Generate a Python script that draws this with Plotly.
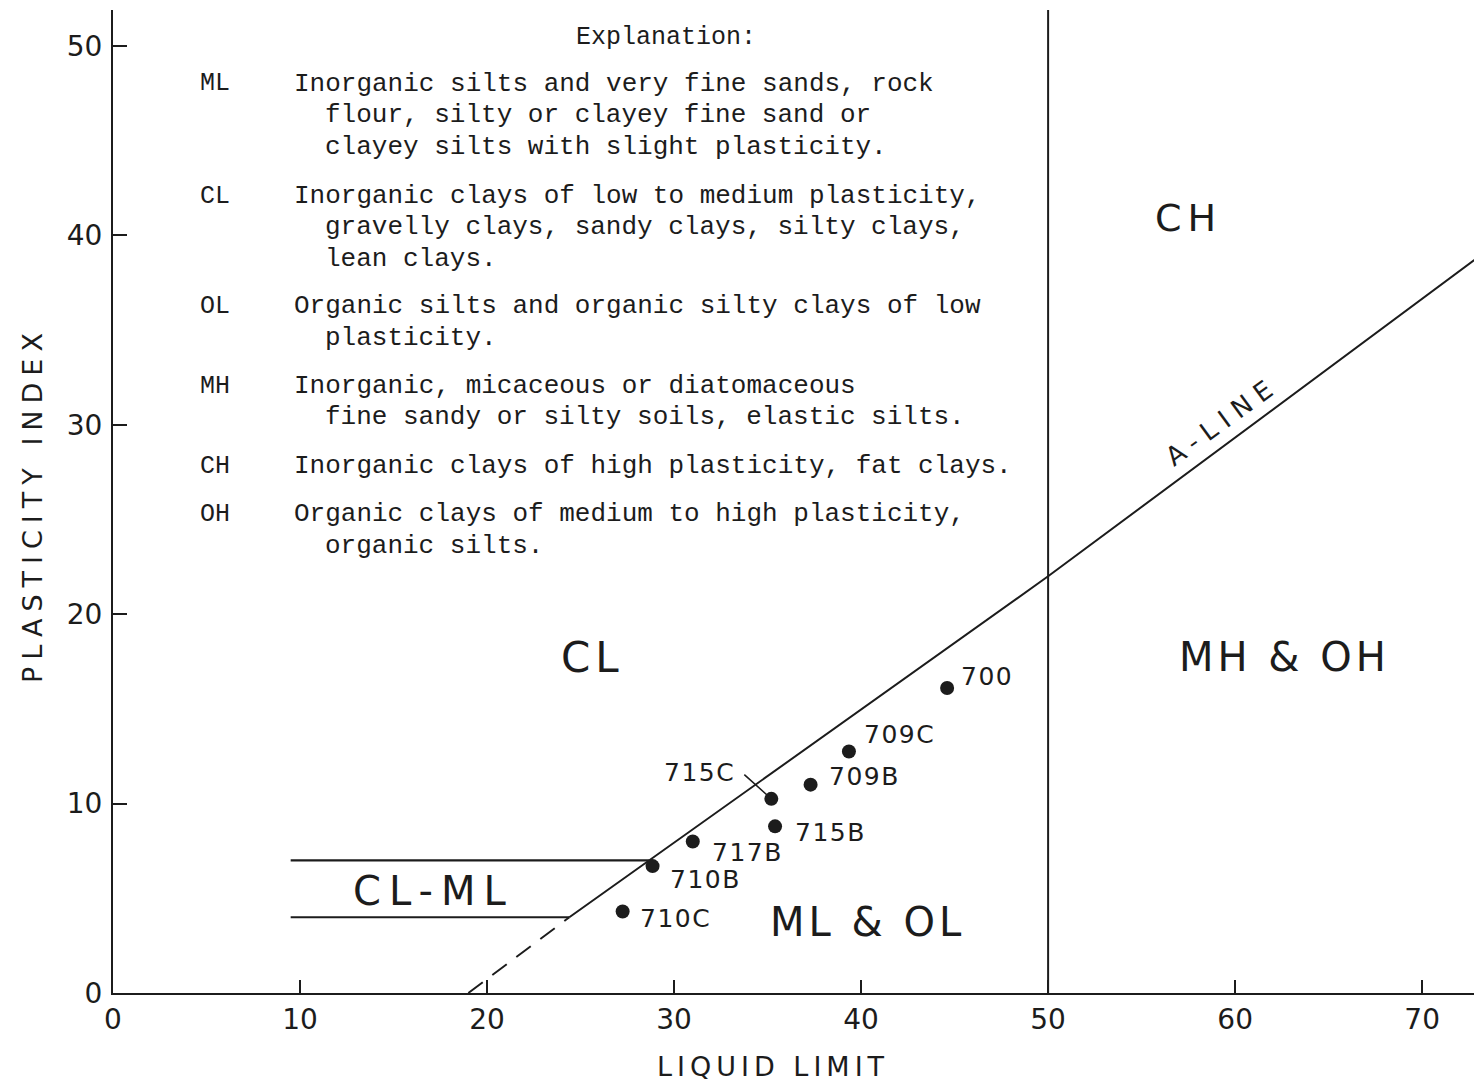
import plotly.graph_objects as go
import numpy as np

# ---------------- data ----------------
sample_ids = ["700", "709C", "709B", "715C", "715B", "717B", "710B", "710C"]
liquid_limit = [44.6, 39.35, 37.3, 35.2, 35.4, 31.0, 28.85, 27.25]
plasticity_index = [16.1, 12.75, 11.0, 10.25, 8.8, 8.0, 6.7, 4.3]

# A-line as drawn (dashed lower part, solid upper part)
a_line_dash_ll = [19.0, 24.4]
a_line_dash_pi = [0.0, 4.0]
a_line_ll = [24.4, 50.0, 73.2]
a_line_pi = [4.0, 22.0, 39.0]

# CL-ML band
cl_ml_start_ll = 9.5
cl_ml_pi = [7.0, 4.0]

# LL = 50 boundary
ll_boundary = 50.0

x_ticks = [0, 10, 20, 30, 40, 50, 60, 70]
y_ticks = [0, 10, 20, 30, 40, 50]
x_range = [0, 73.2]
y_range = [0, 51.9]

legend_codes = ["ML", "CL", "OL", "MH", "CH", "OH"]
legend_text = [
    ["Inorganic silts and very fine sands, rock",
     "flour, silty or clayey fine sand or",
     "clayey silts with slight plasticity."],
    ["Inorganic clays of low to medium plasticity,",
     "gravelly clays, sandy clays, silty clays,",
     "lean clays."],
    ["Organic silts and organic silty clays of low",
     "plasticity."],
    ["Inorganic, micaceous or diatomaceous",
     "fine sandy or silty soils, elastic silts."],
    ["Inorganic clays of high plasticity, fat clays."],
    ["Organic clays of medium to high plasticity,",
     "organic silts."],
]

# label offsets (pixels) for each sample label relative to its point
label_dx = [12, 13, 16, -34, 18, 17, 15, 15]
label_dy = [12, 17, 8, 26, -6, -11, -13, -7]
label_anchor = ["left", "left", "left", "right", "left", "left", "left", "left"]

# ---------------- layout geometry ----------------
# the page body has an 8 px margin, so the figure is drawn 8 px smaller and
# every reference pixel position is shifted by that offset
OFF = 8
W, H = 1482 - OFF, 1085 - OFF
PL, PR, PT, PB = 113, 1482, 10, 993          # plot area in reference pixels
ML_, MR_, MT_, MB_ = PL - OFF, 0, PT - OFF, (1085 - PB)
INK = "#1c1c1c"
SANS = "DejaVu Sans"
MONO = "Liberation Mono"


def px(xp):
    return (xp - PL) / (PR - PL)


def py(yp):
    return (PB - yp) / (PB - PT)


def spaced(text, sp):
    return f'<span style="letter-spacing:{sp}px">{text}</span>'


fig = go.Figure()

# A-line dashed
fig.add_trace(go.Scatter(x=a_line_dash_ll, y=a_line_dash_pi, mode="lines",
                         line=dict(color=INK, width=2, dash="18px,12px"),
                         hoverinfo="skip", showlegend=False))
# A-line solid
fig.add_trace(go.Scatter(x=a_line_ll, y=a_line_pi, mode="lines",
                         line=dict(color=INK, width=2),
                         hoverinfo="skip", showlegend=False))
# CL-ML horizontal lines
for pi in cl_ml_pi:
    end_ll = float(np.interp(pi, a_line_dash_pi + a_line_pi[1:], a_line_dash_ll + a_line_ll[1:]))
    fig.add_trace(go.Scatter(x=[cl_ml_start_ll, end_ll], y=[pi, pi], mode="lines",
                             line=dict(color=INK, width=2.2),
                             hoverinfo="skip", showlegend=False))
# LL = 50 line
fig.add_trace(go.Scatter(x=[ll_boundary, ll_boundary], y=y_range, mode="lines",
                         line=dict(color=INK, width=2),
                         hoverinfo="skip", showlegend=False))
# samples
fig.add_trace(go.Scatter(x=liquid_limit, y=plasticity_index, mode="markers",
                         marker=dict(color=INK, size=14, line=dict(width=0)),
                         text=sample_ids, showlegend=False))

annotations = []
# sample labels
for sid, xx, yy, dx, dy, anc in zip(sample_ids, liquid_limit, plasticity_index,
                                    label_dx, label_dy, label_anchor):
    annotations.append(dict(x=xx, y=yy, xref="x", yref="y", text=spaced(sid, 1.5),
                            showarrow=False, xanchor=anc, yanchor="middle",
                            xshift=dx, yshift=dy,
                            font=dict(family=SANS, size=25, color=INK)))
# 715C leader line
i715c = sample_ids.index("715C")
annotations.append(dict(x=liquid_limit[i715c], y=plasticity_index[i715c], xref="x", yref="y",
                        text=" ", showarrow=True, arrowhead=0, arrowwidth=1.6,
                        arrowcolor=INK, ax=-29, ay=-26, standoff=5,
                        font=dict(size=2)))

# region labels
regions = [("CH", 1188, 218, 38, 6), ("CL", 592, 657, 42, 5),
           ("MH &amp; OH", 1284, 657, 40, 4), ("ML &amp; OL", 867, 922, 40, 4),
           ("CL-ML", 433, 891, 40, 8)]
for txt, xp, yp, fs, sp in regions:
    annotations.append(dict(x=px(xp), y=py(yp), xref="paper", yref="paper",
                            text=spaced(txt, sp), showarrow=False,
                            xanchor="center", yanchor="middle",
                            font=dict(family=SANS, size=fs, color=INK)))
# A-LINE label
annotations.append(dict(x=px(1222), y=py(421), xref="paper", yref="paper",
                        text=spaced("A-LINE", 8), showarrow=False, textangle=-36,
                        xanchor="center", yanchor="middle",
                        font=dict(family=SANS, size=26, color=INK)))

# axis titles
annotations.append(dict(x=px(32), y=py(505), xref="paper", yref="paper",
                        text=spaced("PLASTICITY INDEX", 7), showarrow=False, textangle=-90,
                        xanchor="center", yanchor="middle",
                        font=dict(family=SANS, size=27, color=INK)))
annotations.append(dict(x=px(773), y=py(1066), xref="paper", yref="paper",
                        text=spaced("LIQUID LIMIT", 5), showarrow=False,
                        xanchor="center", yanchor="middle",
                        font=dict(family=SANS, size=27, color=INK)))

# explanation block
annotations.append(dict(x=px(574), y=py(38), xref="paper", yref="paper",
                        text="Explanation:", showarrow=False,
                        xanchor="left", yanchor="middle",
                        font=dict(family=MONO, size=25, color=INK)))
group_y = [84, 196, 306, 386, 466, 514]
line_step = 31.5
for code, lines, gy in zip(legend_codes, legend_text, group_y):
    annotations.append(dict(x=px(198), y=py(gy), xref="paper", yref="paper",
                            text=code, showarrow=False, xanchor="left", yanchor="middle",
                            font=dict(family=MONO, size=25, color=INK)))
    for k, ln in enumerate(lines):
        xp = 292 if k == 0 else 323
        annotations.append(dict(x=px(xp), y=py(gy + k * line_step), xref="paper", yref="paper",
                                text=ln, showarrow=False, xanchor="left", yanchor="middle",
                                font=dict(family=MONO, size=26, color=INK)))

fig.update_layout(
    width=W, height=H,
    margin=dict(l=ML_, r=MR_, t=MT_, b=MB_, pad=0),
    paper_bgcolor="white", plot_bgcolor="white",
    showlegend=False,
    annotations=annotations,
    xaxis=dict(range=x_range, tickvals=x_ticks, ticktext=[str(v) for v in x_ticks],
               showgrid=False, zeroline=False, showline=True, linecolor=INK, linewidth=2,
               ticks="inside", ticklen=13, tickwidth=2, tickcolor=INK,
               tickfont=dict(family=SANS, size=28, color=INK), ticklabelstandoff=0),
    yaxis=dict(range=y_range, tickvals=y_ticks, ticktext=[str(v) for v in y_ticks],
               showgrid=False, zeroline=False, showline=True, linecolor=INK, linewidth=2,
               ticks="inside", ticklen=14, tickwidth=2, tickcolor=INK,
               tickfont=dict(family=SANS, size=28, color=INK), ticklabelstandoff=3),
)

fig.write_html("out.html")
